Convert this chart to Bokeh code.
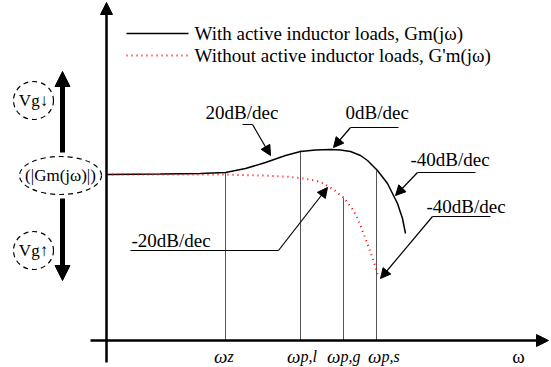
from bokeh.plotting import figure
from bokeh.models import Range1d, Arrow, NormalHead
from bokeh.core.properties import value
from bokeh.embed import file_html
from bokeh.resources import INLINE

FONT = value("'Liberation Serif', 'Times New Roman', serif")

# ---- data (x: log-frequency position, y: magnitude position, downward) ----
with_x = [107, 160, 200, 225, 245, 265, 285, 300, 315, 330, 340, 350, 360, 367, 377, 387, 397, 402, 405]
with_y = [174, 173.5, 173, 172, 168, 162, 155, 151, 149.5, 149, 149.5, 151, 155, 160, 170, 183, 203, 218, 233]

without_x = [107, 180, 223, 260, 285, 303, 315, 323, 333, 343, 353, 358, 363, 368, 373, 378]
without_y = [174, 174, 174, 175, 176, 178, 180, 183, 189, 197, 210, 220, 233, 246, 260, 277]

corner_sub = ["z", "p,l", "p,g", "p,s"]
corner_x = [225, 300, 343, 376]
corner_top = [172, 150, 197, 170]
corner_label_x = [227, 300, 340, 381]

legend_labels = ["With active inductor loads, Gm(jω)", "Without active inductor loads, G'm(jω)"]

slope_text = ["20dB/dec", "0dB/dec", "-40dB/dec", "-40dB/dec", "-20dB/dec"]
slope_text_x = [205, 345, 410, 426, 131]
slope_text_y = [112, 112, 159, 206, 240]
slope_lead_x0 = [242, 398, 475, 490, 130]
slope_lead_x1 = [252, 350, 417, 432, 278]
slope_lead_y = [124, 127, 172, 216, 250]
slope_tip_x = [270, 333, 395, 380, 327]
slope_tip_y = [155, 147, 195, 278, 187]

side_text = ["Vg↓", "(|Gm(jω)|)", "Vg↑"]
side_x = [33, 60, 33]
side_y = [100, 175, 250]
side_w = [40, 82, 40]
side_h = [38, 38, 38]

p = figure(width=551, height=367, x_range=Range1d(0, 551), y_range=Range1d(367, 0),
           output_backend="svg", toolbar_location=None, min_border=0,
           x_axis_type=None, y_axis_type=None)
p.xgrid.visible = False
p.ygrid.visible = False
p.outline_line_color = None
p.background_fill_color = "white"

# axes with arrows
p.add_layout(Arrow(x_start=106, y_start=362, x_end=106, y_end=2, line_width=2.5, line_color="black",
                   end=NormalHead(size=12, fill_color="black", line_color="black")))
p.add_layout(Arrow(x_start=90, y_start=340, x_end=548, y_end=340, line_width=2.5, line_color="black",
                   end=NormalHead(size=12, fill_color="black", line_color="black")))

# corner frequency vertical lines
p.segment(x0=corner_x, y0=corner_top, x1=corner_x, y1=[340] * 4, line_color="#555555", line_width=1)

# curves
p.line(with_x, with_y, line_color="black", line_width=1.5)
p.line(without_x, without_y, line_color="red", line_width=2, line_dash="1 4")

# legend
p.line([126, 188], [33, 33], line_color="black", line_width=1.5)
p.line([126, 188], [55, 55], line_color="red", line_width=2, line_dash="1 4")
p.text(x=[194, 194], y=[33, 55], text=legend_labels, text_font=FONT, text_font_size="19px",
       text_baseline="middle", text_align="left", text_color="black")

# slope annotations
p.text(x=slope_text_x, y=slope_text_y, text=slope_text, text_font=FONT, text_font_size="19px",
       text_baseline="middle", text_align="left", text_color="black")
p.segment(x0=slope_lead_x0, y0=slope_lead_y, x1=slope_lead_x1, y1=slope_lead_y,
          line_color="black", line_width=1.2)
for x1, y1, tx, ty in zip(slope_lead_x1, slope_lead_y, slope_tip_x, slope_tip_y):
    p.add_layout(Arrow(x_start=x1, y_start=y1, x_end=tx, y_end=ty, line_width=1.2, line_color="black",
                       end=NormalHead(size=10, fill_color="black", line_color="black")))

# omega labels
p.text(x=corner_label_x, y=[356] * 4, text=["ω"] * 4, text_font=FONT, text_font_size="19px",
       text_font_style="italic", text_baseline="alphabetic", text_align="right")
p.text(x=corner_label_x, y=[356] * 4, text=corner_sub, text_font=FONT, text_font_size="16px",
       text_font_style="italic", text_baseline="alphabetic", text_align="left")
p.text(x=[518], y=[356], text=["ω"], text_font=FONT, text_font_size="19px",
       text_baseline="alphabetic", text_align="center")

# left side
p.add_layout(Arrow(x_start=62, y_start=152, x_end=62, y_end=71, line_width=5, line_color="black",
                   end=NormalHead(size=15, fill_color="black", line_color="black")))
p.add_layout(Arrow(x_start=62, y_start=198, x_end=62, y_end=280, line_width=5, line_color="black",
                   end=NormalHead(size=15, fill_color="black", line_color="black")))
p.ellipse(x=side_x, y=side_y, width=side_w, height=side_h, fill_color=None,
          line_color="black", line_width=1.2, line_dash="5 4")
p.text(x=side_x, y=side_y, text=side_text, text_font=FONT, text_font_size="17px",
       text_baseline="middle", text_align="center", text_color="black")

open("out.html", "w").write(file_html(p, INLINE))
